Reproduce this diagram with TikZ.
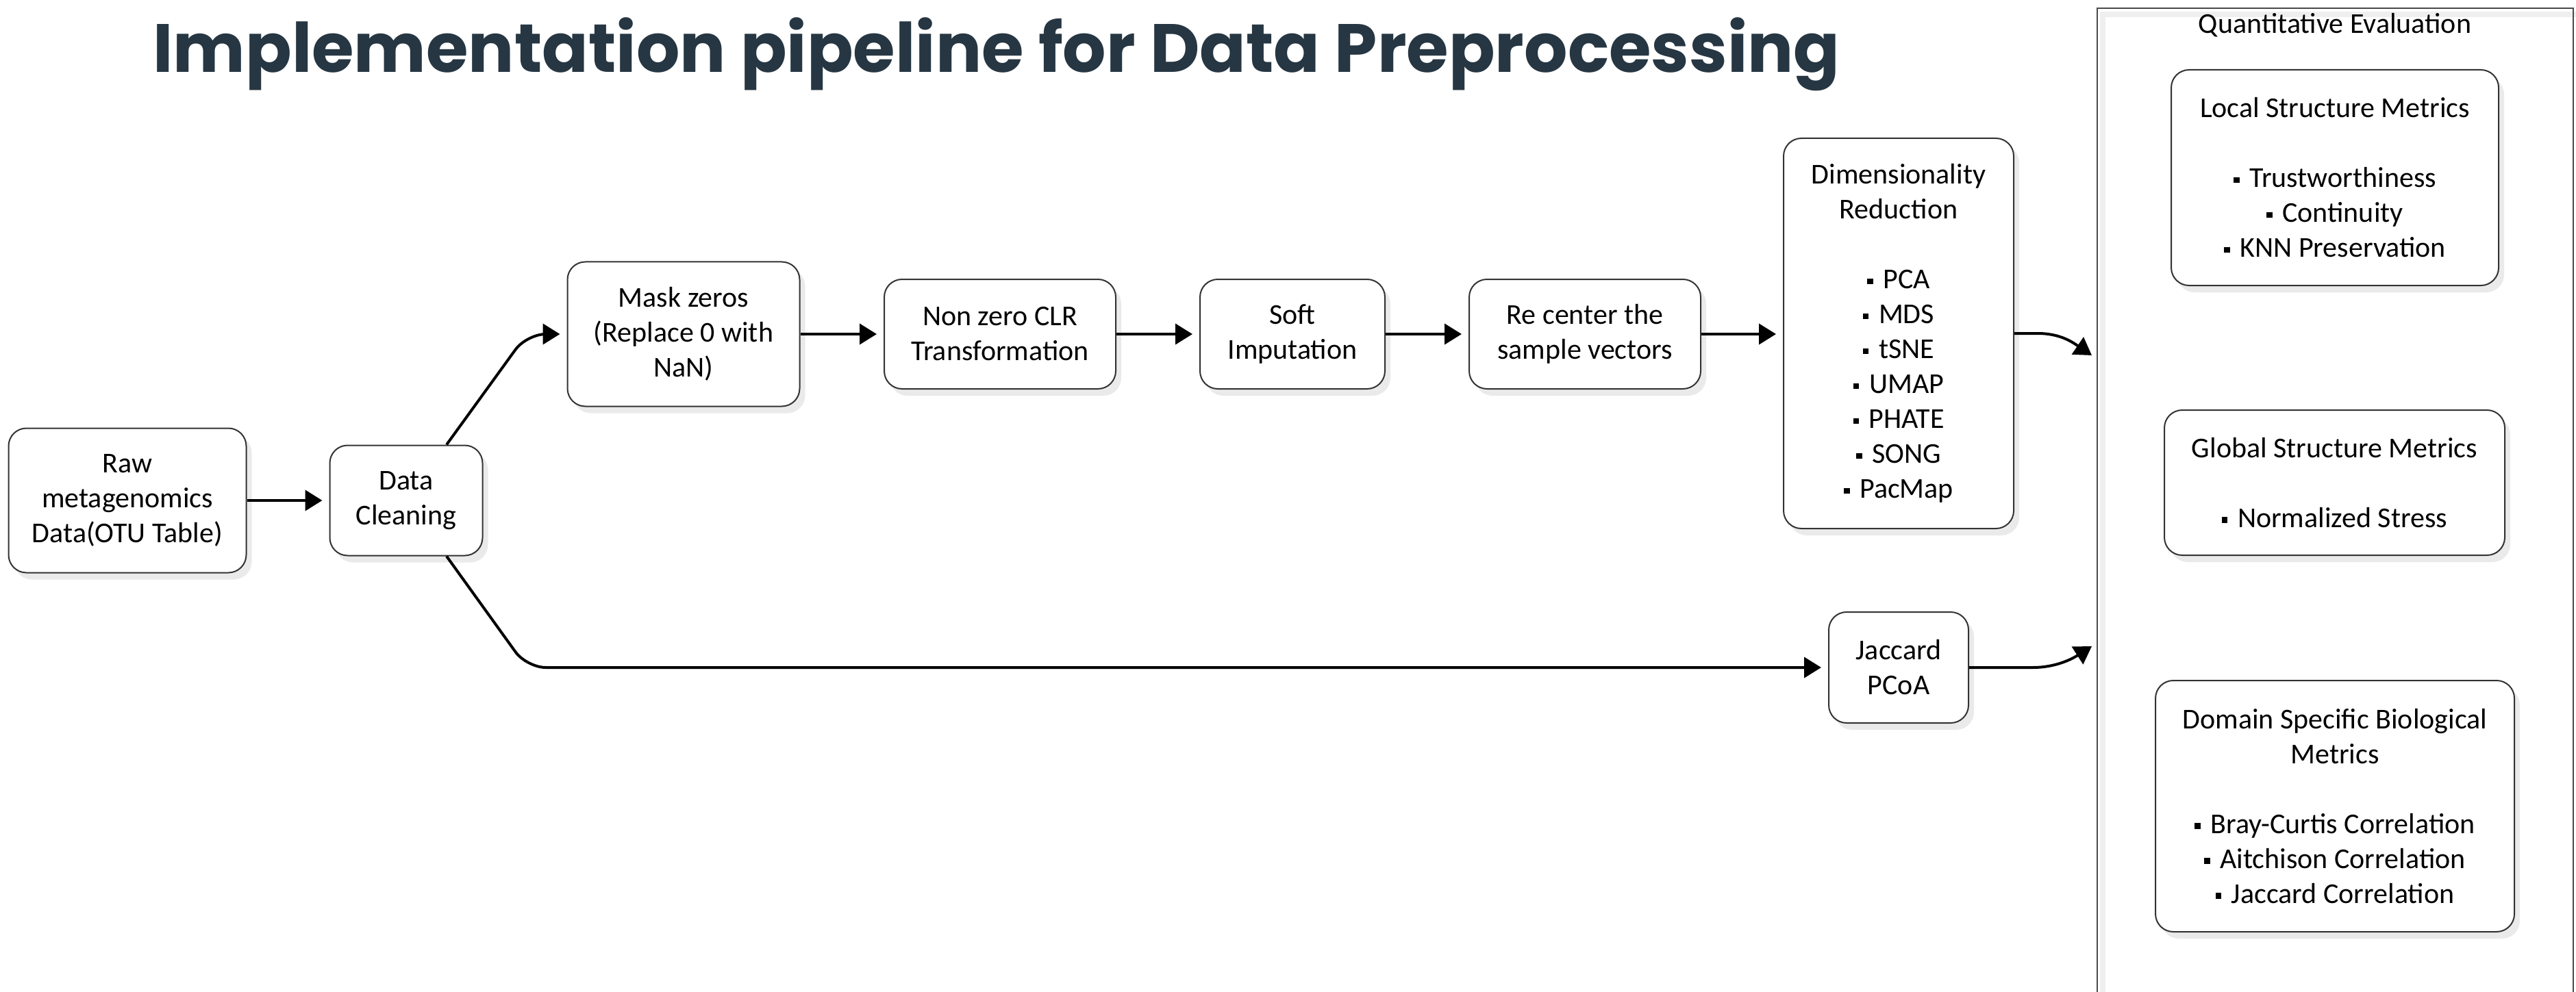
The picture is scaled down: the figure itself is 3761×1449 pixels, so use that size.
\documentclass[tikz,border=0pt]{standalone}
\usepackage{graphicx}
\usepackage{fontspec}
\setmainfont{Carlito}
\newfontfamily\titlefont{Poppins}
\usetikzlibrary{arrows.meta,shadows}

\definecolor{titleink}{HTML}{263642}
\definecolor{boxline}{HTML}{333333}
\definecolor{shade}{HTML}{EAEAEA}
\definecolor{frameline}{HTML}{4A4A4A}
\definecolor{frameshade}{HTML}{EFEFEF}

\newcommand{\bxfont}{\fontsize{21pt}{25.5pt}\selectfont}
\newcommand{\blt}{\raisebox{0.16em}{\rule{0.2em}{0.2em}}\hspace{0.35em}}

\begin{document}
\begin{tikzpicture}[x=0.5pt, y=-0.5pt,
  stepbox/.style={draw=boxline, line width=1pt, rounded corners=13pt,
    fill=white, align=center, inner sep=0pt, font=\bxfont,
    drop shadow={shadow xshift=4pt, shadow yshift=-5pt, fill=shade, opacity=1}},
  flow/.style={line width=2pt, draw=black, rounded corners=14pt,
    -{Triangle[length=12.5pt, width=15pt]}, shorten >=5pt},
  curvedflow/.style={line width=2pt, draw=black,
    -{Triangle[length=12.5pt, width=15pt]}}
]
% canvas
\useasboundingbox[fill=white] (0,0) rectangle (3761,1449);

% heading
\node[anchor=base west, inner sep=0pt, text=titleink] (title) at (223,106)
  {\resizebox{1231.5pt}{!}{\titlefont\bfseries Implementation pipeline for Data Preprocessing}};

% evaluation frame with its offset shade
\draw[frameshade, line width=4pt] (3070,21) rectangle (3790,1500);
\node[draw=frameline, line width=1pt, anchor=north west, inner sep=0pt,
  minimum width=347.5pt, minimum height=745pt] (evalbox) at (3061,11) {};
\node[font=\bxfont, inner sep=0pt] (evaltitle) at (3409,37) {Quantitative Evaluation};

% pipeline steps
\node[stepbox, minimum width=173.5pt, minimum height=105.5pt] (raw) at (186,731)
  {Raw\\metagenomics\\Data(OTU Table)};
\node[stepbox, minimum width=111.5pt, minimum height=80.5pt] (clean) at (593,731)
  {Data\\Cleaning};
\node[stepbox, minimum width=169.5pt, minimum height=105.5pt] (mask) at (998,488)
  {Mask zeros\\(Replace 0 with\\NaN)};
\node[stepbox, minimum width=169pt, minimum height=80pt] (clr) at (1460,488)
  {Non zero CLR\\Transformation};
\node[stepbox, minimum width=135pt, minimum height=80pt] (soft) at (1887,488)
  {Soft\\Imputation};
\node[stepbox, minimum width=169pt, minimum height=80pt] (recenter) at (2314,488)
  {Re center the\\sample vectors};
\node[stepbox, minimum width=168pt, minimum height=285pt] (dimred) at (2772,487)
  {Dimensionality\\Reduction\\[25.5pt]\blt PCA\\\blt MDS\\\blt tSNE\\\blt UMAP\\\blt PHATE\\\blt SONG\\\blt PacMap};
\node[stepbox, minimum width=102pt, minimum height=81pt] (jaccard) at (2772,975)
  {Jaccard\\PCoA};

% metric groups
\node[stepbox, minimum width=239pt, minimum height=157.5pt] (local) at (3409,259.5)
  {Local Structure Metrics\\[25.5pt]\blt Trustworthiness\\\blt Continuity\\\blt KNN Preservation};
\node[stepbox, minimum width=248.5pt, minimum height=106pt] (global) at (3408.5,705)
  {Global Structure Metrics\\[25.5pt]\blt Normalized Stress};
\node[stepbox, minimum width=262pt, minimum height=183.5pt] (domain) at (3409,1177.5)
  {Domain Specific Biological\\Metrics\\[25.5pt]\blt Bray-Curtis Correlation\\\blt Aitchison Correlation\\\blt Jaccard Correlation};

% routing points
\coordinate (upturn) at (769,488);
\coordinate (downturn) at (769,975);
\coordinate (in1) at (3054,519);
\coordinate (in2) at (3054,944);

% connectors
\draw[flow] (raw.east) -- (clean.west);
\draw[flow] ([xshift=29.5pt]clean.north) -- (upturn) -- (mask.west);
\draw[flow] ([xshift=29.5pt]clean.south) -- (downturn) -- (jaccard.west);
\draw[flow] (mask.east) -- (mask.east -| clr.west);
\draw[flow] (clr.east) -- (soft.west);
\draw[flow] (soft.east) -- (recenter.west);
\draw[flow] (recenter.east) -- (recenter.east -| dimred.west);
\draw[curvedflow] (dimred.east) -- (2975,487) .. controls (3008,487) and (3026,500) .. (in1);
\draw[curvedflow] (jaccard.east) -- (2968,975) .. controls (3002,975) and (3026,962) .. (in2);
\end{tikzpicture}
\end{document}
